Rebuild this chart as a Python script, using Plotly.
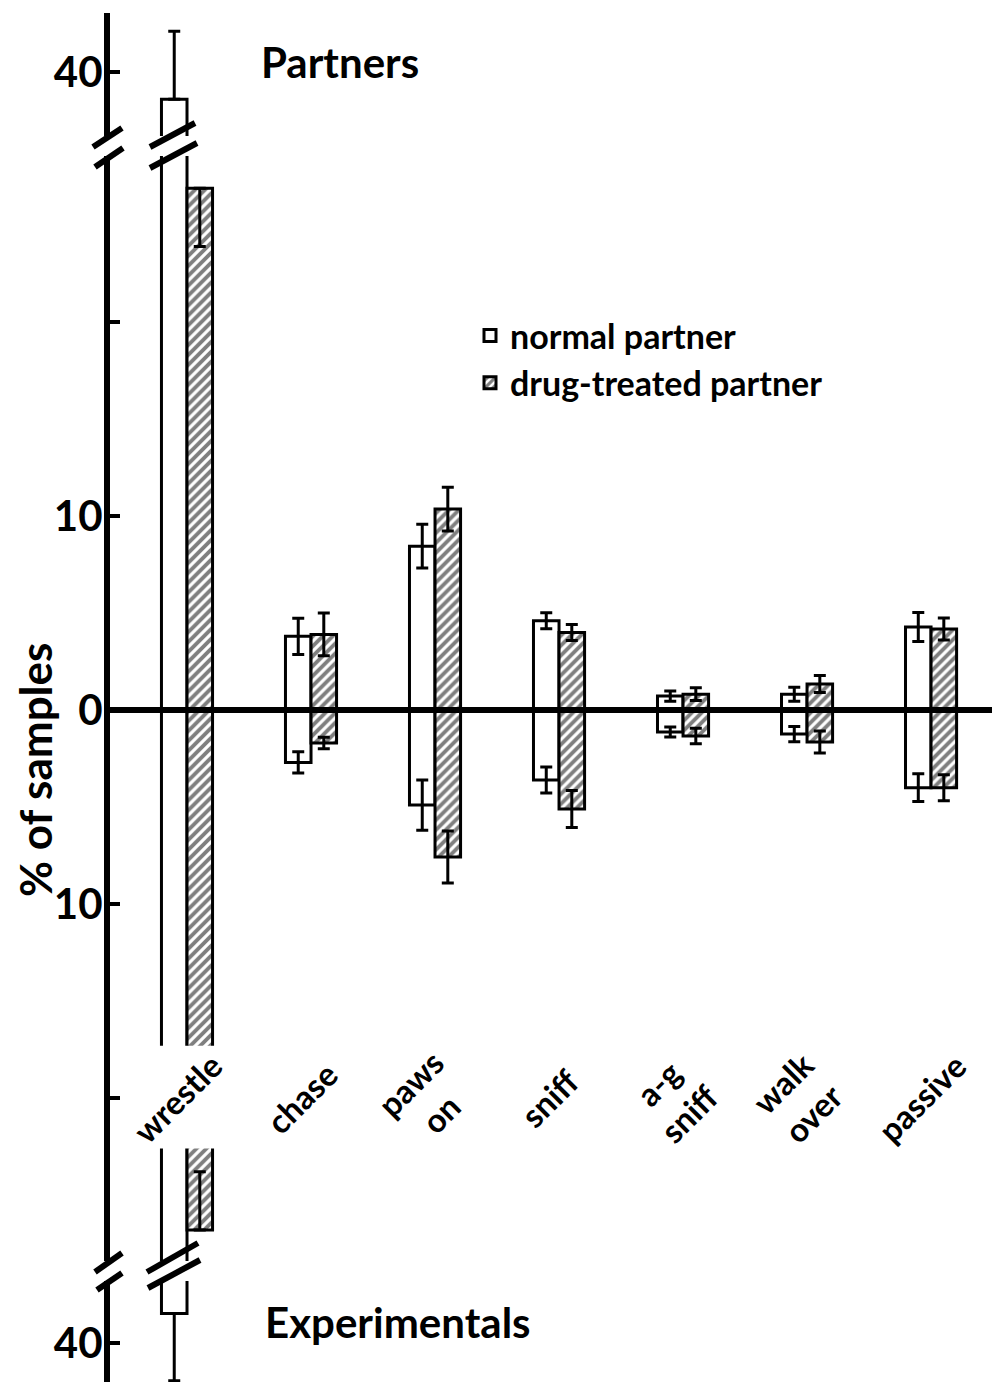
import plotly.graph_objects as go

# ---------------- data ----------------
categories = ["wrestle", "chase", "paws on", "sniff", "a-g sniff", "walk over", "passive"]

# Partners (plotted upward), % of samples
partners_normal = [38.6, 3.8, 8.45, 4.6, 0.72, 0.82, 4.28]
partners_drug = [26.9, 3.9, 10.36, 4.0, 0.82, 1.34, 4.18]
# Experimentals (plotted downward), % of samples
exp_normal = [38.6, 2.7, 4.9, 3.6, 1.13, 1.24, 4.0]
exp_drug = [26.8, 1.7, 7.58, 5.1, 1.34, 1.65, 4.0]

# error whiskers: "outer" = away from zero, "inner" = toward zero
partners_normal_err_outer = [3.5, 0.93, 1.13, 0.41, 0.26, 0.36, 0.75]
partners_normal_err_inner = [0.0, 0.93, 1.13, 0.41, 0.26, 0.36, 0.75]
partners_drug_err_outer = [0.0, 1.1, 1.13, 0.41, 0.33, 0.44, 0.57]
partners_drug_err_inner = [3.0, 1.1, 1.13, 0.41, 0.33, 0.44, 0.57]
exp_normal_err_outer = [3.2, 0.55, 1.29, 0.67, 0.26, 0.39, 0.72]
exp_normal_err_inner = [0.0, 0.55, 1.29, 0.67, 0.26, 0.39, 0.72]
exp_drug_err_outer = [0.0, 0.3, 1.34, 0.95, 0.4, 0.57, 0.67]
exp_drug_err_inner = [3.0, 0.3, 1.34, 0.95, 0.4, 0.57, 0.67]

series_names = ["normal partner", "drug-treated partner"]
y_tick_labels_mid = ["", "10", "0", "10", ""]
y_tick_vals_mid = [-20, -10, 0, 10, 20]

# ---------------- layout helpers ----------------
OFF = 8                     # page body margin
W, H = 1000 - OFF, 1382 - OFF
L = 110 - OFF
FONT = "Lato"
WEIGHT = "bold"


def px(xp):
    """page pixel x -> paper x"""
    return (xp - OFF - L) / (W - L)


def py(yp):
    """page pixel y -> paper y"""
    return 1 - (yp - OFF) / H


BAR_W = 0.206
err_style = dict(color="black", thickness=3, width=6)
normal_marker = dict(color="white", line=dict(color="black", width=3))
drug_marker = dict(color="white", line=dict(color="black", width=3),
                   pattern=dict(shape="/", fgcolor="black", bgcolor="white",
                                size=7, solidity=0.55))

fig = go.Figure()
neg = lambda v: [-a for a in v]

for yax in ["y", "y2", "y3"]:
    show = yax == "y2"
    fig.add_trace(go.Bar(
        x=categories, y=partners_normal, yaxis=yax, xaxis="x",
        width=BAR_W, offset=-BAR_W, marker=normal_marker,
        name=series_names[0], legendgroup="n", showlegend=show,
        error_y=dict(type="data", symmetric=False, array=partners_normal_err_outer,
                     arrayminus=partners_normal_err_inner, **err_style)))
    fig.add_trace(go.Bar(
        x=categories, y=partners_drug, yaxis=yax, xaxis="x",
        width=BAR_W, offset=0, marker=drug_marker,
        name=series_names[1], legendgroup="d", showlegend=show,
        error_y=dict(type="data", symmetric=False, array=partners_drug_err_outer,
                     arrayminus=partners_drug_err_inner, **err_style)))
    fig.add_trace(go.Bar(
        x=categories, y=neg(exp_normal), yaxis=yax, xaxis="x",
        width=BAR_W, offset=-BAR_W, marker=normal_marker,
        name=series_names[0], legendgroup="n", showlegend=False,
        error_y=dict(type="data", symmetric=False, array=exp_normal_err_inner,
                     arrayminus=exp_normal_err_outer, **err_style)))
    fig.add_trace(go.Bar(
        x=categories, y=neg(exp_drug), yaxis=yax, xaxis="x",
        width=BAR_W, offset=0, marker=drug_marker,
        name=series_names[1], legendgroup="d", showlegend=False,
        error_y=dict(type="data", symmetric=False, array=exp_drug_err_inner,
                     arrayminus=exp_drug_err_outer, **err_style)))

axis_common = dict(showline=True, linewidth=6, linecolor="black", ticks="inside",
                   ticklen=10, tickwidth=4, tickcolor="black", showgrid=False,
                   zeroline=False, anchor="x", ticklabelstandoff=-7,
                   tickfont=dict(family=FONT, size=42, color="black", weight=WEIGHT))

fig.update_layout(
    width=W, height=H,
    margin=dict(l=L, r=0, t=0, b=0),
    paper_bgcolor="white", plot_bgcolor="white",
    barmode="overlay",
    font=dict(family=FONT, color="black"),
    xaxis=dict(type="category", range=[-0.621, 6.556], showline=False,
               showticklabels=False, ticks="", showgrid=False, zeroline=False,
               anchor="y2"),
    yaxis=dict(domain=[py(136), py(13)], range=[36.70, 43.04],
               tickvals=[40], ticktext=["40"], **axis_common),
    yaxis2=dict(domain=[py(1261), py(156)], range=[-28.40, 28.56],
                tickvals=y_tick_vals_mid, ticktext=y_tick_labels_mid, **axis_common),
    yaxis3=dict(domain=[max(0.0, py(1382)), py(1281)], range=[-42.27 + 8 / 19.4, -37.06],
                tickvals=[-40], ticktext=["40"], **axis_common),
    legend=dict(x=px(470), y=py(307), xanchor="left", yanchor="top",
                font=dict(family=FONT, size=34, color="black", weight=WEIGHT),
                bgcolor="rgba(0,0,0,0)", itemwidth=30, tracegroupgap=0),
    showlegend=True,
)

shapes = []
# thick zero line across the plot
shapes.append(dict(type="line", xref="x domain", x0=0, x1=1, yref="y2", y0=0, y1=0,
                   line=dict(color="black", width=6), layer="above"))
# white gap in the wrestle bars where its label sits
shapes.append(dict(type="rect", xref="x", x0=-0.5, x1=0.5, yref="y2", y0=-17.3, y1=-22.6,
                   fillcolor="white", line=dict(width=0), layer="above"))
# axis-break strokes (axis and wrestle bar), in page pixel positions
breaks = [
    ((93, 147), (122, 128)), ((95, 167), (123, 148)),
    ((150, 147), (195, 123)), ((150, 168), (197, 143)),
    ((95, 1272), (122, 1253)), ((97, 1290), (122, 1273)),
    ((147, 1272), (198, 1243)), ((148, 1288), (200, 1260)),
]
for (x0, y0), (x1, y1) in breaks:
    shapes.append(dict(type="line", xref="paper", yref="paper",
                       x0=px(x0), y0=py(y0), x1=px(x1), y1=py(y1),
                       line=dict(color="black", width=6), layer="above"))
fig.update_layout(shapes=shapes)

title_font = dict(family=FONT, size=42, color="black", weight=WEIGHT)
annotations = [
    dict(text="Partners", x=px(340), y=py(62), xref="paper", yref="paper",
         xanchor="center", yanchor="middle", showarrow=False, font=title_font),
    dict(text="Experimentals", x=px(398), y=py(1322), xref="paper", yref="paper",
         xanchor="center", yanchor="middle", showarrow=False, font=title_font),
    dict(text="% of samples", x=px(35), y=py(770), xref="paper", yref="paper",
         xanchor="center", yanchor="middle", textangle=-90, showarrow=False,
         font=dict(family=FONT, size=44, color="black", weight=WEIGHT)),
]
for c in categories:
    annotations.append(dict(text=c.replace(" ", "<br>"), x=c, y=-20, xref="x", yref="y2",
                            xanchor="center", yanchor="middle",
                            xshift=-10, textangle=-45, showarrow=False,
                            font=dict(family=FONT, size=33, color="black", weight=WEIGHT)))
fig.update_layout(annotations=annotations)

fig.write_html("out.html")
